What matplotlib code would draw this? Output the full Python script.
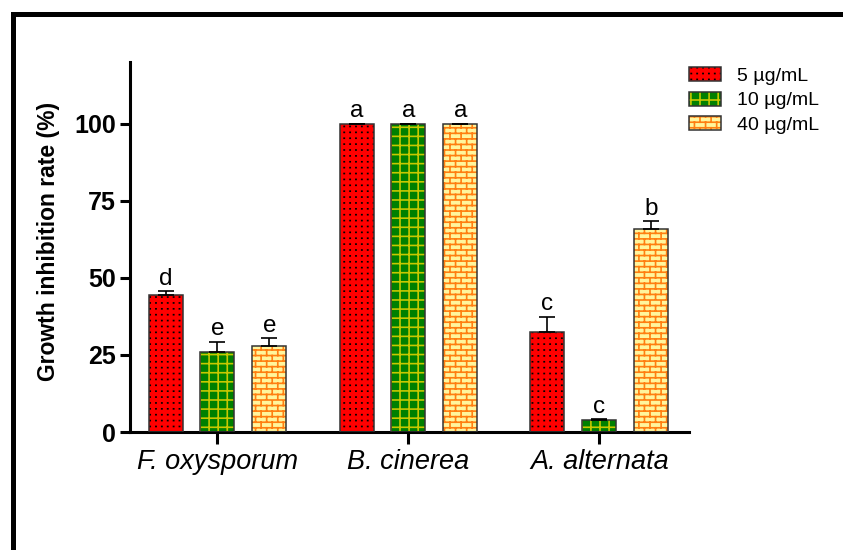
import warnings
warnings.filterwarnings("ignore")
import numpy as np
import matplotlib
matplotlib.use("Agg")
import matplotlib.pyplot as plt
import matplotlib.hatch as mhatch
from matplotlib.path import Path
from matplotlib.patches import Patch, Rectangle
from matplotlib.lines import Line2D
from matplotlib.legend_handler import HandlerTuple

# ---------------- data ----------------
categories = ["F. oxysporum", "B. cinerea", "A. alternata"]
series_labels = ["5 µg/mL", "10 µg/mL", "40 µg/mL"]
means_5 = [44.5, 100.0, 32.5]
means_10 = [26.0, 100.0, 3.8]
means_40 = [28.0, 100.0, 66.0]
err_5 = [1.2, 0.0, 4.9]
err_10 = [3.3, 0.0, 0.4]
err_40 = [2.5, 0.0, 2.5]
letters_5 = ["d", "a", "c"]
letters_10 = ["e", "a", "c"]
letters_40 = ["e", "a", "b"]
y_ticks = [0, 25, 50, 75, 100]

DPI = 100

# ---------------- custom hatch patterns ----------------
class ProbeHatch(mhatch.HatchPatternBase):
    def __init__(self, hatch, density):
        self.num_vertices = 2 if 'V' in hatch else 0

    def set_vertices_and_codes(self, vertices, codes):
        vertices[0] = (0.5, 0); vertices[1] = (0.5, 1)
        codes[0] = Path.MOVETO; codes[1] = Path.LINETO


mhatch._hatch_types.append(ProbeHatch)


def measure_tile():
    try:
        f = plt.figure(figsize=(4, 1), dpi=DPI)
        f.add_artist(Rectangle((0, 0), 1, 1, transform=f.transFigure, facecolor='white',
                               edgecolor='black', hatch='V', linewidth=0))
        f.canvas.draw()
        img = np.asarray(f.canvas.buffer_rgba())[:, :, 0].astype(float)
        plt.close(f)
        row = img[img.shape[0] // 2]
        dark = np.where(row < 128)[0]
        groups = [dark[0]]
        for d in dark[1:]:
            if d - groups[-1] > 3:
                groups.append(d)
        return float(np.median(np.diff(groups)))
    except Exception:
        return float(DPI)


TILE = measure_tile()
GRID_N = max(1, int(round(TILE / 9.3)))
BRICK_R = max(2, 2 * int(round(TILE / 5.8 / 2)))
BRICK_C = max(1, int(round(TILE / 11.3)))
DOT_N = max(1, int(round(TILE / 5.8)))


class GridHatch(mhatch.HatchPatternBase):
    def __init__(self, hatch, density):
        self.n = GRID_N if 'G' in hatch else 0
        self.num_vertices = 4 * (self.n + 1) if self.n else 0

    def set_vertices_and_codes(self, vertices, codes):
        n = self.n
        k = 0
        for i in range(n + 1):
            p = i / n
            vertices[k] = (0, p); vertices[k + 1] = (1, p)
            vertices[k + 2] = (p, 0); vertices[k + 3] = (p, 1)
            codes[k] = Path.MOVETO; codes[k + 1] = Path.LINETO
            codes[k + 2] = Path.MOVETO; codes[k + 3] = Path.LINETO
            k += 4


class BrickHatch(mhatch.HatchPatternBase):
    def __init__(self, hatch, density):
        self.active = 'B' in hatch
        self.rows, self.cols = BRICK_R, BRICK_C
        if self.active:
            nh = self.rows + 1
            nv = 0
            for i in range(self.rows):
                nv += (self.cols + 1) if i % 2 == 0 else self.cols
            self.num_vertices = 2 * (nh + nv)
        else:
            self.num_vertices = 0

    def set_vertices_and_codes(self, vertices, codes):
        r, c = self.rows, self.cols
        k = 0
        for i in range(r + 1):
            y = i / r
            vertices[k] = (0, y); vertices[k + 1] = (1, y)
            codes[k] = Path.MOVETO; codes[k + 1] = Path.LINETO
            k += 2
        for i in range(r):
            y0, y1 = i / r, (i + 1) / r
            if i % 2 == 0:
                xs = [j / c for j in range(c + 1)]
            else:
                xs = [(j + 0.5) / c for j in range(c)]
            for xx in xs:
                vertices[k] = (xx, y0); vertices[k + 1] = (xx, y1)
                codes[k] = Path.MOVETO; codes[k + 1] = Path.LINETO
                k += 2


class DotHatch(mhatch.HatchPatternBase):
    def __init__(self, hatch, density):
        self.n = DOT_N if 'D' in hatch else 0
        self.num_vertices = 2 * self.n * self.n

    def set_vertices_and_codes(self, vertices, codes):
        n = self.n
        k = 0
        for i in range(n):
            for j in range(n):
                xx, yy = (i + 0.5) / n, (j + 0.5) / n
                vertices[k] = (xx, yy); vertices[k + 1] = (xx + 0.002, yy)
                codes[k] = Path.MOVETO; codes[k + 1] = Path.LINETO
                k += 2


mhatch._hatch_types.extend([GridHatch, BrickHatch, DotHatch])

# ---------------- style ----------------
plt.rcParams['font.family'] = ['Liberation Sans', 'DejaVu Sans']
plt.rcParams['hatch.linewidth'] = 1.2

face_colors = ['#FF0000', '#008000', '#FFF59C']
hatch_colors = ['#000000', '#C8C800', '#FF7F10']
hatches = ['D', 'G', 'B']
edge_color = '#333333'

fig = plt.figure(figsize=(8.43, 5.5), dpi=DPI)
ax = fig.add_axes([130 / 843, 1 - 432 / 550, (689 - 130) / 843, (432 - 62) / 550])

x = np.arange(len(categories))
width = 0.178
offsets = [-0.272, 0.0, 0.272]
all_means = [means_5, means_10, means_40]
all_errs = [err_5, err_10, err_40]
all_letters = [letters_5, letters_10, letters_40]

for s in range(3):
    pos = x + offsets[s]
    ax.bar(pos, all_means[s], width, color=face_colors[s], edgecolor=hatch_colors[s],
           hatch=hatches[s], linewidth=0, zorder=2)
    ax.bar(pos, all_means[s], width, facecolor='none', edgecolor=edge_color,
           linewidth=1.1, zorder=3)
    ax.errorbar(pos, all_means[s], yerr=[np.zeros(3), all_errs[s]], fmt='none',
                ecolor='black', elinewidth=1.2, capsize=5.5, capthick=1.2, zorder=4)
    for xi, m, e, lab in zip(pos, all_means[s], all_errs[s], all_letters[s]):
        ax.annotate(lab, (xi, m + e), xytext=(0, 4.5), textcoords='offset points',
                    ha='center', va='baseline', fontsize=17.5, color='black')

ax.set_xlim(-0.458, 2.469)
ax.set_ylim(0, 120)
ax.set_yticks(y_ticks)
ax.set_yticklabels([str(t) for t in y_ticks], fontsize=18, fontweight='bold')
ax.set_xticks(x)
ax.set_xticklabels(categories, fontsize=19.5, fontstyle='italic')
ax.tick_params(axis='y', length=7, width=2.2, pad=3)
ax.tick_params(axis='x', length=8.5, width=2.2, pad=4)
for sp in ['top', 'right']:
    ax.spines[sp].set_visible(False)
for sp in ['left', 'bottom']:
    ax.spines[sp].set_linewidth(2.2)
ax.set_ylabel("Growth inhibition rate (%)", fontsize=16.5, fontweight='bold')
ax.yaxis.set_label_coords(-0.125, 0.516)

# legend
handles = []
for s in range(3):
    h1 = Patch(facecolor=face_colors[s], edgecolor=hatch_colors[s], hatch=hatches[s], linewidth=0)
    h2 = Patch(facecolor='none', edgecolor=edge_color, linewidth=1.1)
    handles.append((h1, h2))
fig.legend(handles, series_labels, handler_map={tuple: HandlerTuple(ndivide=1)},
           loc='upper left', bbox_to_anchor=(689 / 843, 1 - 67 / 550),
           frameon=False, fontsize=14, handlelength=1.65, handleheight=0.72,
           handletextpad=0.82, labelspacing=0.36, borderpad=0, borderaxespad=0)

# outer partial frame
xl = 12.5 / 843
yt = 1 - 14.3 / 550
fig.add_artist(Line2D([xl, xl, 1.0], [0.0, yt, yt], transform=fig.transFigure,
                      color='black', linewidth=3.6, solid_joinstyle='miter'))

fig.savefig("out.png", dpi=DPI)
